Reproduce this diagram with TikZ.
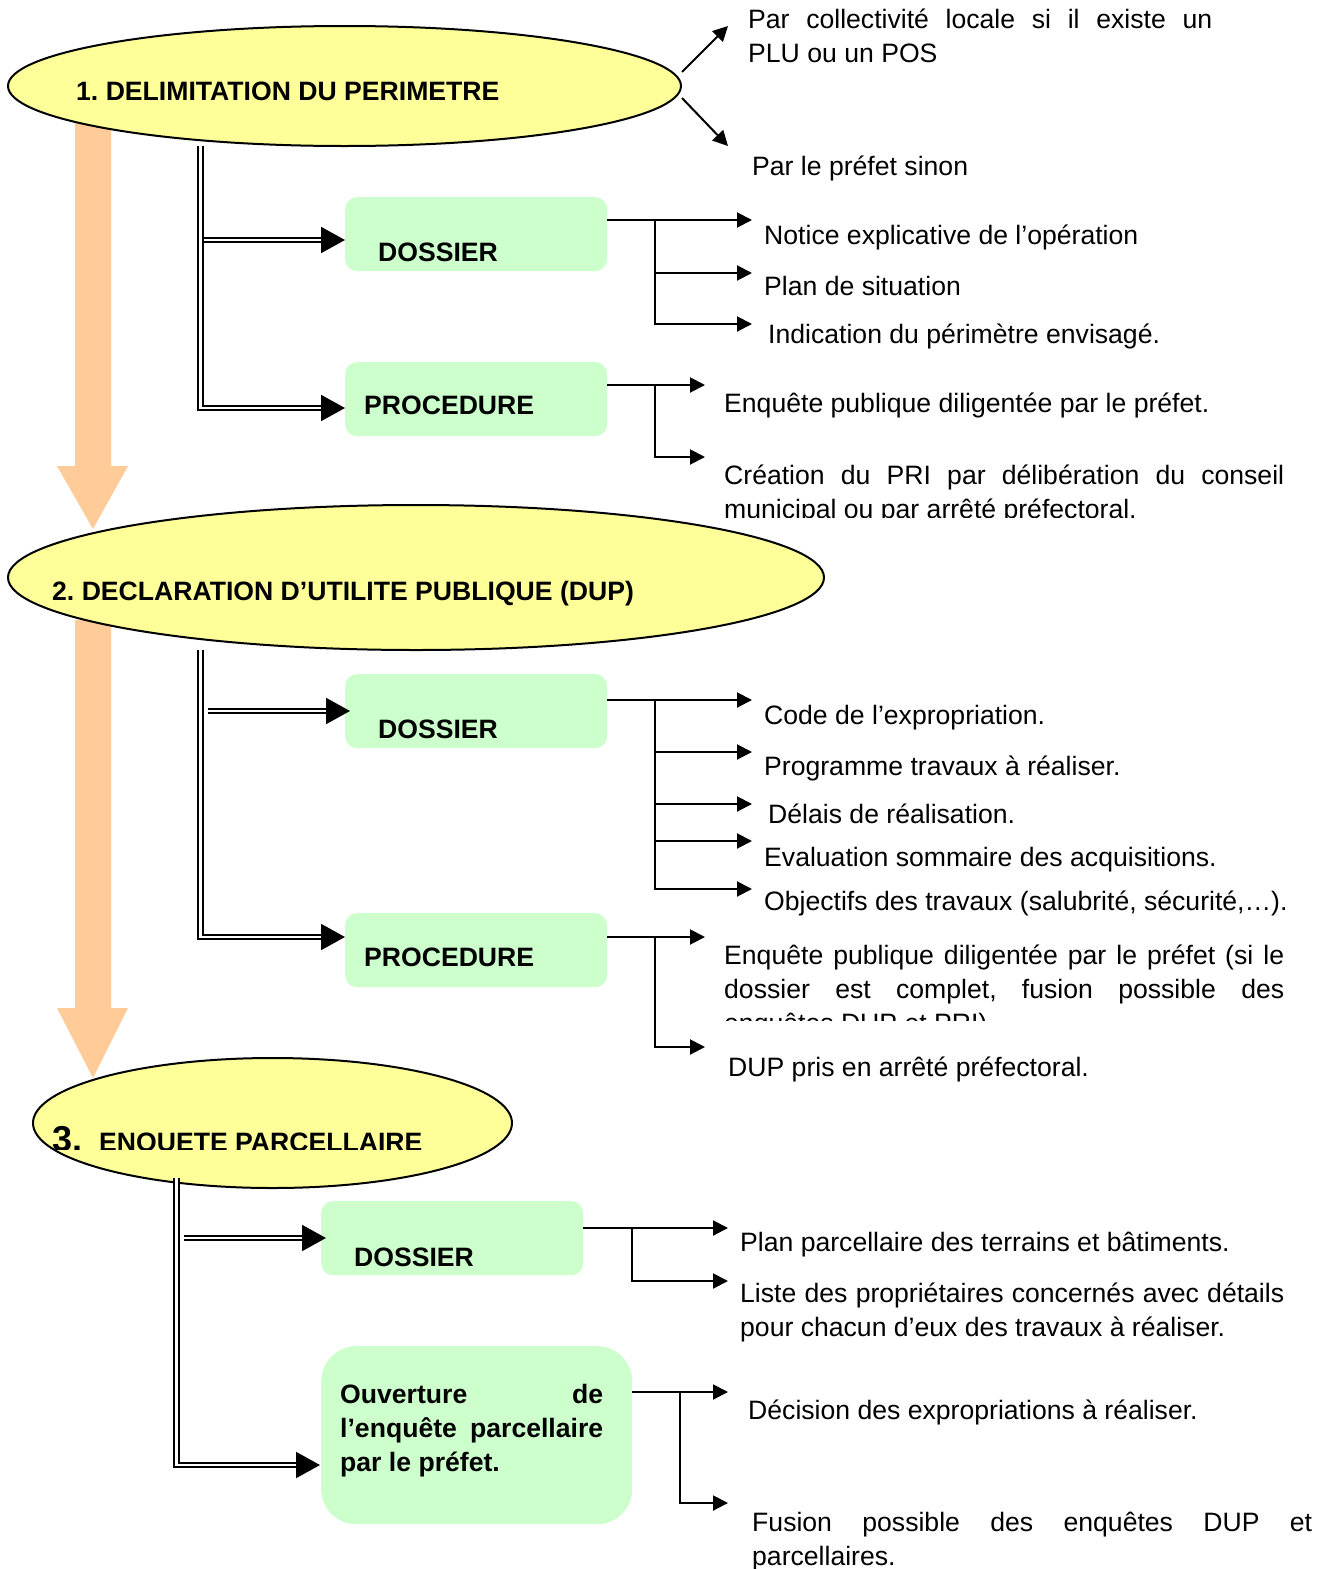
\documentclass[tikz,border=0pt]{standalone}
\usepackage{fontspec}
\setmainfont{Liberation Sans}
\usetikzlibrary{positioning,shapes.geometric,arrows.meta}
\definecolor{jaune}{HTML}{FFFF99}
\definecolor{vert}{HTML}{CCFFCC}
\definecolor{saumon}{HTML}{FFCC99}

\begin{document}
\frenchspacing
\hyphenpenalty=10000 \tolerance=10000 \hbadness=10000
\begin{tikzpicture}[x=1pt,y=-1pt,
  phase/.style={ellipse,draw,line width=2pt,fill=jaune,inner sep=0pt},
  boite/.style={fill=vert,rounded corners=12pt,inner sep=0pt,anchor=north west,
                minimum width=262pt,minimum height=74pt},
  txt/.style={anchor=base west,inner sep=0pt,font=\fontsize{26.6}{34}\selectfont},
  gras/.style={txt,font=\fontsize{26.6}{34}\selectfont\bfseries},
  para/.style={align=justify,text width=#1},
  fil/.style={line width=2pt,-{Triangle[length=15pt,width=15pt]}},
  dbl/.style={double,double distance=2.5pt,line width=2pt,
              -{Triangle[length=24pt,width=26pt]}},
  fleche/.style={fill=saumon}]

\fill[white] (0,0) rectangle (1320,1569);
\useasboundingbox (0,0) rectangle (1320,1569);

% grosses fleches
\fill[fleche] (75,120) -- (111,120) -- (111,466) -- (128,466) -- (93,529)
              -- (57,466) -- (75,466) -- cycle;
\fill[fleche] (75,620) -- (111,620) -- (111,1008) -- (128,1008) -- (93,1078)
              -- (57,1008) -- (75,1008) -- cycle;

% 1. delimitation
\node[phase,minimum width=673pt,minimum height=120pt] (e1) at (344.5,86) {};
\node[gras] (e1t) at (76,100.5) {1. DELIMITATION DU PERIMETRE};

\coordinate (h1) at (728,26);
\coordinate (h2) at (728,146);
\draw[fil] (e1.east |- 0,72) -- (h1);
\draw[fil] (e1.east |- 0,98) -- (h2);
\node[txt,para=464pt] (t01) at (748,28) {Par collectivité locale si il existe un\linebreak PLU ou un POS};
\node[txt] (t02) at (752,175) {Par le préfet sinon};

\node[boite] (dos1) at (345,197) {};
\node[gras] (dos1t) at (378,261) {DOSSIER};
\node[boite] (pro1) at (345,362) {};
\node[gras] (pro1t) at (364,414) {PROCEDURE};

\coordinate (v1) at (200.5,146);
\coordinate (d1) at (345,240);
\coordinate (p1) at (345,408);
\draw[dbl] (v1) |- (p1);
\draw[dbl] ([xshift=3pt]v1 |- d1) -- (d1);

\coordinate (b1) at (655,220);
\coordinate (a11) at (752,220);
\coordinate (a12) at (752,273);
\coordinate (a13) at (752,324);
\draw[fil] (dos1.east |- b1) -- (a11);
\draw[fil] (b1) |- (a12);
\draw[fil] (b1) |- (a13);
\node[txt] (t11) at (764,244) {Notice explicative de l’opération};
\node[txt] (t12) at (764,295) {Plan de situation};
\node[txt] (t13) at (768,343) {Indication du périmètre envisagé.};

\coordinate (b2) at (655,385);
\coordinate (a21) at (705,385);
\coordinate (a22) at (705,457);
\draw[fil] (pro1.east |- b2) -- (a21);
\draw[fil] (b2) |- (a22);
\node[txt] (t21) at (724,412) {Enquête publique diligentée par le préfet.};
\begin{scope}
  \clip (700,440) rectangle (1320,517);
  \node[txt,para=560pt] (t22) at (724,484) {Création du PRI par délibération du conseil\linebreak municipal ou par arrêté préfectoral.};
\end{scope}

% 2. DUP
\node[phase,minimum width=816pt,minimum height=145pt] (e2) at (416,577.5) {};
\node[gras] (e2t) at (52,600) {2. DECLARATION D’UTILITE PUBLIQUE (DUP)};

\node[boite] (dos2) at (345,674) {};
\node[gras] (dos2t) at (378,738) {DOSSIER};
\node[boite] (pro2) at (345,913) {};
\node[gras] (pro2t) at (364,966) {PROCEDURE};

\coordinate (v2) at (200.5,650);
\coordinate (d2) at (350,711);
\coordinate (p2) at (345,937);
\draw[dbl] (v2) |- (p2);
\draw[dbl] ([xshift=7pt]v2 |- d2) -- (d2);

\coordinate (b3) at (655,700);
\coordinate (a31) at (752,700);
\coordinate (a32) at (752,752);
\coordinate (a33) at (752,804);
\coordinate (a34) at (752,841);
\coordinate (a35) at (752,889);
\draw[fil] (dos2.east |- b3) -- (a31);
\draw[fil] (b3) |- (a32);
\draw[fil] (b3) |- (a33);
\draw[fil] (b3) |- (a34);
\draw[fil] (b3) |- (a35);
\node[txt] (t31) at (764,724) {Code de l’expropriation.};
\node[txt] (t32) at (764,775) {Programme travaux à réaliser.};
\node[txt] (t33) at (768,823) {Délais de réalisation.};
\node[txt] (t34) at (764,866) {Evaluation sommaire des acquisitions.};
\node[txt] (t35) at (764,910) {Objectifs des travaux (salubrité, sécurité,…).};

\coordinate (b4) at (655,937);
\coordinate (a41) at (705,937);
\coordinate (a42) at (705,1047);
\draw[fil] (pro2.east |- b4) -- (a41);
\draw[fil] (b4) |- (a42);
\begin{scope}
  \clip (700,930) rectangle (1320,1020);
  \node[txt,para=560pt] (t41) at (724,964) {Enquête publique diligentée par le préfet (si le\linebreak dossier est complet, fusion possible des\linebreak enquêtes DUP et PRI)};
\end{scope}
\node[txt] (t42) at (728,1076) {DUP pris en arrêté préfectoral.};

% 3. enquete parcellaire
\node[phase,minimum width=479pt,minimum height=130pt] (e3) at (272.5,1123) {};
\begin{scope}
  \clip (40,1090) rectangle (500,1149);
  \node[gras] (e3t) at (52,1151) {{\fontsize{36}{40}\selectfont 3.}\hspace{17pt}ENQUETE PARCELLAIRE};
\end{scope}

\node[boite] (dos3) at (321,1201) {};
\node[gras] (dos3t) at (354,1266) {DOSSIER};
\node[boite,minimum width=311pt,minimum height=178pt,rounded corners=35pt] (ouv) at (321,1346) {};
\node[gras,para=263pt] (ouvt) at (340,1403) {Ouverture de\linebreak l’enquête parcellaire\linebreak par le préfet.};

\coordinate (v3) at (176.5,1178);
\coordinate (d3) at (326,1238);
\coordinate (p3) at (320,1465);
\draw[dbl] (v3) |- (p3);
\draw[dbl] ([xshift=7pt]v3 |- d3) -- (d3);

\coordinate (b5) at (632,1228);
\coordinate (a51) at (728,1228);
\coordinate (a52) at (728,1281);
\draw[fil] (dos3.east |- b5) -- (a51);
\draw[fil] (b5) |- (a52);
\node[txt] (t51) at (740,1251) {Plan parcellaire des terrains et bâtiments.};
\node[txt,para=544pt] (t52) at (740,1302) {Liste des propriétaires concernés avec détails\linebreak pour chacun d’eux des travaux à réaliser.};

\coordinate (b6) at (680,1392);
\coordinate (a61) at (728,1392);
\coordinate (a62) at (728,1503);
\draw[fil] (ouv.east |- b6) -- (a61);
\draw[fil] (b6) |- (a62);
\node[txt] (t61) at (748,1419) {Décision des expropriations à réaliser.};
\begin{scope}
  \clip (700,1500) rectangle (1320,1569);
  \node[txt,para=560pt] (t62) at (752,1531) {Fusion possible des enquêtes DUP et\linebreak parcellaires.};
\end{scope}

\end{tikzpicture}
\end{document}
